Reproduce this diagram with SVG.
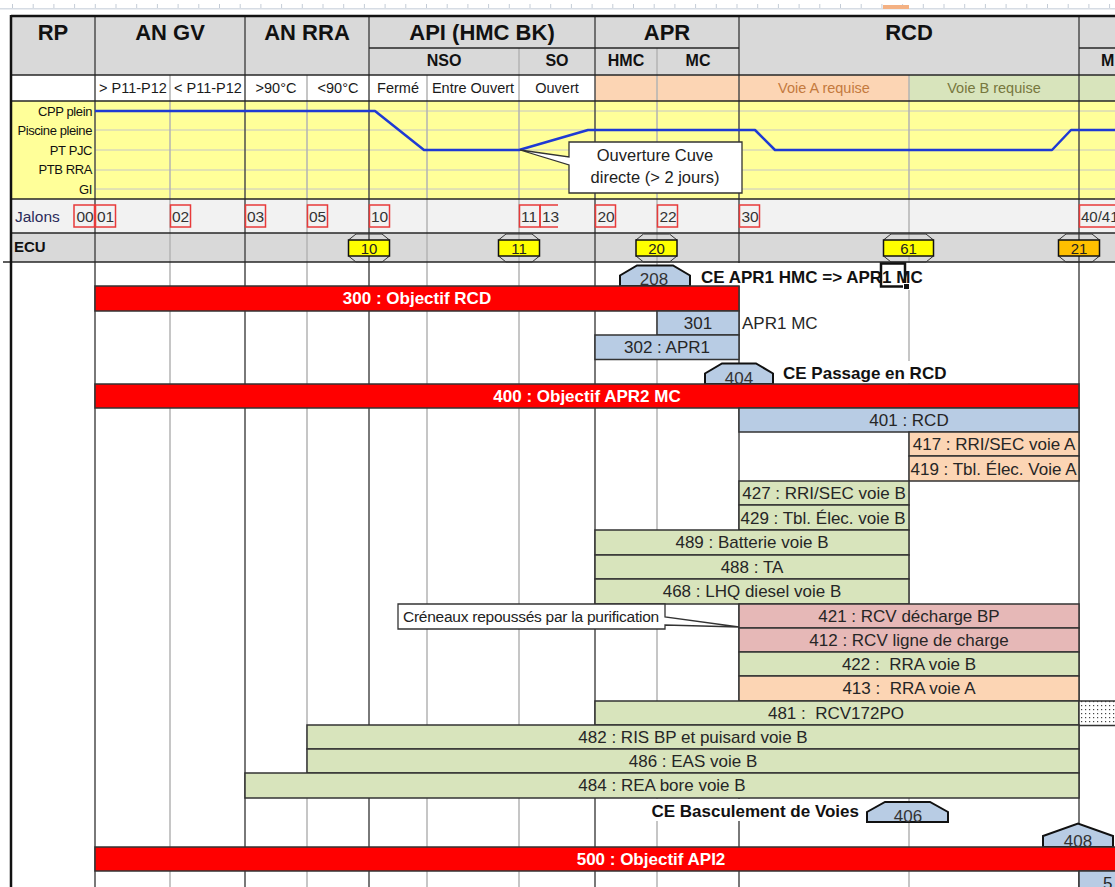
<svg xmlns="http://www.w3.org/2000/svg" width="1115" height="887" viewBox="0 0 1115 887">
<style>
  text { font-family: "Liberation Sans", Arial, sans-serif; fill: #262626; }
  .h1 { font-size: 22px; font-weight: bold; fill: #111; text-anchor: middle; }
  .h2 { font-size: 16px; font-weight: bold; fill: #111; text-anchor: middle; }
  .h3 { font-size: 14.5px; text-anchor: middle; fill: #1a1a1a; }
  .lab { font-size: 13px; letter-spacing: -0.4px; text-anchor: end; fill: #111; }
  .jal { font-size: 15.5px; fill: #333; }
  .jbox { fill: none; stroke: #e83a3a; stroke-width: 1.5; }
  .cap { fill: none; stroke: #333; stroke-width: 1; }
  .ecu { stroke: #111; stroke-width: 1.5; }
  .ecut { font-size: 15px; text-anchor: middle; fill: #222; }
  .gd { stroke: #4d4d4d; stroke-width: 1.5; }
  .gl { stroke: #b3b3b3; stroke-width: 1.5; }
  .hl { stroke: #262626; stroke-width: 1.5; }
  .cl { stroke: #c6c6c6; stroke-width: 1; }
  .bar rect { stroke: #333; stroke-width: 1.5; }
  .obj rect { fill: #ff0000; }
  .obj text { font-size: 17px; font-weight: bold; fill: #fff; text-anchor: middle; }
  .t { font-size: 17px; text-anchor: middle; }
  .ts { font-size: 17px; }
  .blue { fill: #b8cce4; } .green { fill: #d8e4bc; } .peach { fill: #fcd5b4; } .pink { fill: #e6b8b7; }
  .ms polygon { fill: #b8cce4; stroke: #111; stroke-width: 2; stroke-linejoin: miter; }
  .ms text { font-size: 17px; text-anchor: middle; fill: #333; }
  .ce { font-size: 17px; font-weight: bold; fill: #111; }
  .note path { fill: #fff; stroke: #333; stroke-width: 1.3; }
  .mask { fill: #fff; }
</style>
<defs>
  <pattern id="dots" width="4" height="4" patternUnits="userSpaceOnUse">
    <rect width="4" height="4" fill="#fff"/>
    <rect x="1" y="1" width="1.2" height="1.2" fill="#444"/>
  </pattern>
  <pattern id="ticks" x="12" y="4" width="20.7" height="5" patternUnits="userSpaceOnUse">
    <rect x="0" y="0" width="1" height="5" fill="#c4ccd6"/>
  </pattern>
  <clipPath id="clipA"><rect x="909" y="456" width="170" height="25"/></clipPath>
  <clipPath id="clipB"><rect x="739" y="505" width="170" height="25"/></clipPath>
</defs>

<!-- sheet ruler -->
<g id="ruler">
  <rect x="0" y="4" width="1115" height="5" fill="url(#ticks)"/>
  <rect x="0" y="8" width="1115" height="1.5" fill="#d6dce4"/>
  <rect x="883" y="5" width="26" height="4" fill="#f4b183"/>
</g>

<!-- band backgrounds -->
<g id="bands">
  <rect x="11" y="16" width="1104" height="59" fill="#d9d9d9"/>
  <rect x="11" y="75" width="584" height="26" fill="#fff"/>
  <rect x="595" y="75" width="314" height="26" fill="#fcd5b4"/>
  <rect x="909" y="75" width="206" height="26" fill="#d8e4bc"/>
  <rect x="11" y="101" width="1104" height="98" fill="#ffff99"/>
  <rect x="11" y="199" width="1104" height="34" fill="#f2f2f2"/>
  <rect x="11" y="233" width="1104" height="29" fill="#d9d9d9"/>
</g>

<!-- chart level lines -->
<g id="chart-grid">
  <line class="cl" x1="95" y1="111" x2="1115" y2="111"/>
  <line class="cl" x1="95" y1="130" x2="1115" y2="130"/>
  <line class="cl" x1="95" y1="150" x2="1115" y2="150"/>
  <line class="cl" x1="95" y1="170" x2="1115" y2="170"/>
  <line class="cl" x1="95" y1="189" x2="1115" y2="189"/>
</g>

<!-- sheet grid -->
<g id="grid">
  <line class="gl" x1="170" y1="75" x2="170" y2="887"/>
  <line class="gl" x1="307" y1="75" x2="307" y2="887"/>
  <line class="gl" x1="427" y1="75" x2="427" y2="887"/>
  <line class="gl" x1="519" y1="48" x2="519" y2="887"/>
  <line class="gl" x1="657" y1="48" x2="657" y2="887"/>
  <line class="gl" x1="909" y1="75" x2="909" y2="887"/>
  <line class="gd" x1="95" y1="16" x2="95" y2="887"/>
  <line class="gd" x1="245" y1="16" x2="245" y2="887"/>
  <line class="gd" x1="369" y1="16" x2="369" y2="887"/>
  <line class="gd" x1="595" y1="16" x2="595" y2="887"/>
  <line class="gd" x1="739" y1="16" x2="739" y2="887"/>
  <line class="gd" x1="1079" y1="16" x2="1079" y2="887"/>
  <line class="hl" x1="369" y1="48" x2="739" y2="48"/>
  <line class="hl" x1="1079" y1="48" x2="1115" y2="48"/>
  <line class="hl" x1="11" y1="75" x2="1115" y2="75"/>
  <line class="hl" x1="11" y1="101" x2="1115" y2="101"/>
  <line class="hl" x1="11" y1="199" x2="1115" y2="199"/>
  <line class="hl" x1="11" y1="233" x2="1115" y2="233"/>
  <line class="hl" x1="3" y1="262" x2="1115" y2="262"/>
  <line x1="11" y1="16" x2="1115" y2="16" stroke="#111" stroke-width="2.5"/>
  <line x1="11" y1="15" x2="11" y2="887" stroke="#111" stroke-width="2.5"/>
  <!-- cells whose overflowing text hides the grid -->
  <rect class="mask" x="691" y="263" width="386" height="23"/>
  <rect class="mask" x="775" y="361" width="200" height="22.5"/>
  <rect class="mask" x="597" y="799" width="269" height="22"/>
</g>

<!-- header titles -->
<g id="header">
  <text class="h1" x="53" y="40">RP</text>
  <text class="h1" x="170" y="40">AN GV</text>
  <text class="h1" x="307" y="40">AN RRA</text>
  <text class="h1" x="482" y="40">API (HMC BK)</text>
  <text class="h1" x="667" y="40">APR</text>
  <text class="h1" x="909" y="40">RCD</text>
  <text class="h2" x="444" y="66">NSO</text>
  <text class="h2" x="557" y="66">SO</text>
  <text class="h2" x="626" y="66">HMC</text>
  <text class="h2" x="698" y="66">MC</text>
  <text class="h2" x="1101" y="66" style="text-anchor:start">M</text>
  <text class="h3" x="133" y="93">&gt; P11-P12</text>
  <text class="h3" x="208" y="93">&lt; P11-P12</text>
  <text class="h3" x="276" y="93">&gt;90°C</text>
  <text class="h3" x="338" y="93">&lt;90°C</text>
  <text class="h3" x="398" y="93">Fermé</text>
  <text class="h3" x="473" y="93">Entre Ouvert</text>
  <text class="h3" x="557" y="93">Ouvert</text>
  <text class="h3" x="824" y="93" style="fill:#c47a3e">Voie A requise</text>
  <text class="h3" x="994" y="93" style="fill:#77773e">Voie B requise</text>
</g>

<!-- plant state chart -->
<g id="state-chart">
  <text class="lab" x="92" y="116">CPP plein</text>
  <text class="lab" x="92" y="135">Piscine pleine</text>
  <text class="lab" x="92" y="155">PT PJC</text>
  <text class="lab" x="92" y="174">PTB RRA</text>
  <text class="lab" x="92" y="194">GI</text>
  <polyline points="95,111 375,111 424,150 519,150 588,130 755,130 775,150 1052,150 1071,130 1115,130" fill="none" stroke="#1f3ad4" stroke-width="2.5" stroke-linejoin="round"/>
</g>

<g id="note-cuve" class="note">
  <path d="M569,142 H742 V193 H569 V165 L520,150 L569,157 Z"/>
  <text x="655" y="161" style="font-size:16.5px;text-anchor:middle;fill:#222">Ouverture Cuve</text>
  <text x="655" y="183" style="font-size:16.5px;text-anchor:middle;fill:#222">directe (&gt; 2 jours)</text>
</g>

<!-- milestones row -->
<g id="jalons">
  <text x="15" y="222" style="font-size:15.5px;fill:#2b2b5a">Jalons</text>
  <rect class="jbox" x="74" y="205" width="20.5" height="22"/><text class="jal" x="76.5" y="222">00</text>
  <rect class="jbox" x="95.5" y="205" width="20" height="22"/><text class="jal" x="97" y="222">01</text>
  <rect class="jbox" x="170.5" y="205" width="20" height="22"/><text class="jal" x="172" y="222">02</text>
  <rect class="jbox" x="245.5" y="205" width="20" height="22"/><text class="jal" x="247" y="222">03</text>
  <rect class="jbox" x="307.5" y="205" width="20" height="22"/><text class="jal" x="309" y="222">05</text>
  <rect class="jbox" x="369.5" y="205" width="20" height="22"/><text class="jal" x="371" y="222">10</text>
  <rect class="jbox" x="519.5" y="205" width="20.5" height="22"/><text class="jal" x="521" y="222">11</text>
  <path class="jbox" d="M540,205 H558 M540,227 H558 M540,205 V227"/><text class="jal" x="542" y="222">13</text>
  <rect class="jbox" x="595.5" y="205" width="20" height="22"/><text class="jal" x="597.5" y="222">20</text>
  <rect class="jbox" x="657.5" y="205" width="20" height="22"/><text class="jal" x="659.5" y="222">22</text>
  <rect class="jbox" x="739.5" y="205" width="20" height="22"/><text class="jal" x="741.5" y="222">30</text>
  <rect class="jbox" x="1079.5" y="205" width="50" height="22"/><text class="jal" x="1081" y="222" style="font-size:15px">40/41</text>
</g>

<!-- ECU row -->
<g id="ecu">
  <text x="14" y="252" style="font-size:15px;font-weight:bold;fill:#111">ECU</text>
  <g id="ecu-10">
    <path class="cap" d="M348.5,240 L356,234 H382 L389.5,240 M348.5,256 L356,262 H382 L389.5,256"/>
    <rect class="ecu" x="348.5" y="240" width="41" height="16" fill="#ffff00"/>
    <text class="ecut" x="369" y="254">10</text>
  </g>
  <g id="ecu-11">
    <path class="cap" d="M498.5,240 L506,234 H532 L539.5,240 M498.5,256 L506,262 H532 L539.5,256"/>
    <rect class="ecu" x="498.5" y="240" width="41" height="16" fill="#ffff00"/>
    <text class="ecut" x="519" y="254">11</text>
  </g>
  <g id="ecu-20">
    <path class="cap" d="M636,240 L643.5,234 H669.5 L677,240 M636,256 L643.5,262 H669.5 L677,256"/>
    <rect class="ecu" x="636" y="240" width="41" height="16" fill="#ffff00"/>
    <text class="ecut" x="656.5" y="254">20</text>
  </g>
  <g id="ecu-61">
    <path class="cap" d="M883.5,240 L891,234 H926 L933.5,240 M883.5,256 L891,262 H926 L933.5,256"/>
    <rect class="ecu" x="883.5" y="240" width="50" height="16" fill="#ffff00"/>
    <text class="ecut" x="908.5" y="254">61</text>
  </g>
  <g id="ecu-21">
    <path class="cap" d="M1058.5,240 L1066,234 H1092 L1099.5,240 M1058.5,256 L1066,262 H1092 L1099.5,256"/>
    <rect class="ecu" x="1058.5" y="240" width="41" height="16" fill="#ffc000"/>
    <text class="ecut" x="1079" y="254">21</text>
  </g>
</g>

<!-- schedule bars and key events -->
<g id="ce-208" class="ms">
  <polygon points="620,286 620,275.5 637,265.5 673,265.5 690,275.5 690,286"/>
  <text x="654" y="285">208</text>
</g>
<text class="ce" x="701" y="283">CE APR1 HMC =&gt; APR1 MC</text>
<g id="cursor">
  <rect x="881" y="263.5" width="24" height="23" fill="none" stroke="#111" stroke-width="2.5"/>
  <rect x="903.5" y="283.5" width="6" height="6" fill="#111" stroke="#fff" stroke-width="1"/>
</g>

<g id="b300" class="bar obj"><rect x="95" y="286" width="644" height="25"/><text x="417" y="304">300 : Objectif RCD</text></g>
<g id="b301" class="bar"><rect class="blue" x="657" y="311" width="82" height="24"/><text class="t" x="698" y="329">301</text></g>
<text class="ts" x="742" y="329">APR1 MC</text>
<g id="b302" class="bar"><rect class="blue" x="595" y="335" width="144" height="24.5"/><text class="t" x="667" y="353">302 : APR1</text></g>

<g id="ce-404" class="ms">
  <polygon points="705,384 705,373.5 722,363.5 756,363.5 773,373.5 773,384"/>
  <text x="739" y="384">404</text>
</g>
<text class="ce" x="783" y="379">CE Passage en RCD</text>

<g id="b400" class="bar obj"><rect x="95" y="384" width="984" height="24"/><text x="587" y="402">400 : Objectif APR2 MC</text></g>
<g id="b401" class="bar"><rect class="blue" x="739" y="408" width="340" height="24"/><text class="t" x="909" y="426">401 : RCD</text></g>
<g id="b417" class="bar"><rect class="peach" x="909" y="432" width="170" height="24"/><text class="t" x="994" y="450">417 : RRI/SEC voie A</text></g>
<g id="b419" class="bar"><rect class="peach" x="909" y="456" width="170" height="25"/><text class="ts" x="910.5" y="475" clip-path="url(#clipA)">419 : Tbl. Élec. Voie A</text></g>
<g id="b427" class="bar"><rect class="green" x="739" y="481" width="170" height="24"/><text class="t" x="824" y="499">427 : RRI/SEC voie B</text></g>
<g id="b429" class="bar"><rect class="green" x="739" y="505" width="170" height="25"/><text class="ts" x="740.5" y="524" clip-path="url(#clipB)">429 : Tbl. Élec. voie B</text></g>
<g id="b489" class="bar"><rect class="green" x="595" y="530" width="314" height="25"/><text class="t" x="752" y="548">489 : Batterie voie B</text></g>
<g id="b488" class="bar"><rect class="green" x="595" y="555" width="314" height="24"/><text class="t" x="752" y="573">488 : TA</text></g>
<g id="b468" class="bar"><rect class="green" x="595" y="579" width="314" height="25"/><text class="t" x="752" y="597">468 : LHQ diesel voie B</text></g>
<g id="b421" class="bar"><rect class="pink" x="739" y="604" width="340" height="24"/><text class="t" x="909" y="622">421 : RCV décharge BP</text></g>
<g id="b412" class="bar"><rect class="pink" x="739" y="628" width="340" height="24"/><text class="t" x="909" y="646">412 : RCV ligne de charge</text></g>
<g id="b422" class="bar"><rect class="green" x="739" y="652" width="340" height="24"/><text class="t" x="909" y="670">422 :&#160; RRA voie B</text></g>
<g id="b413" class="bar"><rect class="peach" x="739" y="676" width="340" height="25"/><text class="t" x="909" y="694">413 :&#160; RRA voie A</text></g>
<g id="b481" class="bar"><rect class="green" x="595" y="701" width="484" height="24"/><text class="t" x="836" y="719">481 :&#160; RCV172PO</text></g>
<g id="b481-next" class="bar"><rect x="1079" y="701" width="40" height="24.5" fill="url(#dots)"/></g>
<g id="b482" class="bar"><rect class="green" x="307" y="725" width="772" height="24"/><text class="t" x="693" y="743">482 : RIS BP et puisard voie B</text></g>
<g id="b486" class="bar"><rect class="green" x="307" y="749" width="772" height="24"/><text class="t" x="693" y="767">486 : EAS voie B</text></g>
<g id="b484" class="bar"><rect class="green" x="245" y="773" width="834" height="25"/><text class="t" x="662" y="791">484 : REA bore voie B</text></g>

<text class="ce" x="859" y="817" style="text-anchor:end">CE Basculement de Voies</text>
<g id="ce-406" class="ms">
  <polygon points="867,822 867,812 885,802 930,802 948,812 948,822"/>
  <text x="908" y="822">406</text>
</g>
<g id="ce-408" class="ms">
  <polygon points="1043,847 1043,836 1078,823.5 1113,836 1113,847"/>
  <text x="1078" y="847">408</text>
</g>

<g id="b500" class="bar obj"><rect x="95" y="847" width="1030" height="24"/><text x="651" y="865">500 : Objectif API2</text></g>
<g id="b5xx" class="bar"><rect class="blue" x="1079" y="871" width="40" height="24"/><text class="ts" x="1103" y="889">5</text></g>

<g id="note-purif" class="note">
  <path d="M398,604 H665 V617 L739,627 L665,625 V629 H398 Z"/>
  <text x="403" y="622" style="font-size:15.5px;letter-spacing:-0.25px;fill:#222">Créneaux repoussés par la purification</text>
</g>

<!-- no linking arrows in this sheet -->
<g id="connectors"/>
</svg>
